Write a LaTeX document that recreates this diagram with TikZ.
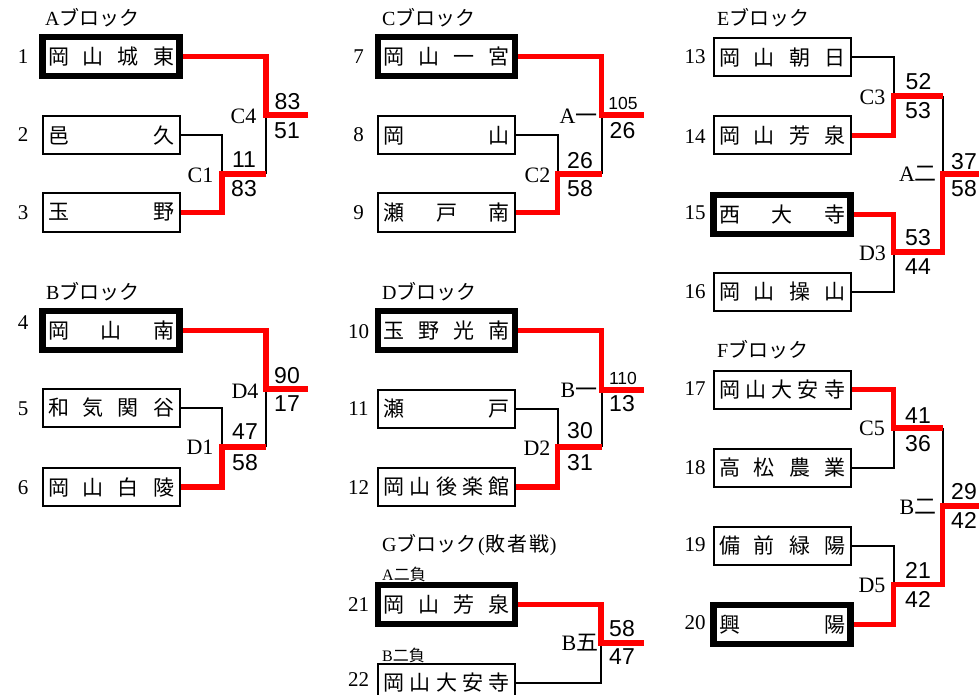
\documentclass[tikz,border=0pt]{standalone}
\usepackage{fontspec}
\setmainfont{Liberation Serif}
\newfontfamily\jp{Noto Sans CJK JP}
\newfontfamily\sn{Liberation Sans}
\newcommand{\jt}[1]{\makebox[126pt][s]{#1}}
\pgfdeclarelayer{bg}
\pgfsetlayers{bg,main}
\tikzset{
 team/.style={draw, line width=2pt, fill=white, minimum width=137pt, minimum height=38pt, inner sep=0pt, font=\jp\fontsize{21}{21}\selectfont},
 winner/.style={team, line width=6.5pt, minimum height=39pt},
 seed/.style={inner sep=0pt, font=\fontsize{21}{21}\selectfont},
 game/.style={inner sep=0pt, font=\fontsize{22}{22}\selectfont},
 score/.style={inner sep=0pt, font=\sn\fontsize{23}{23}\selectfont},
 smallscore/.style={inner sep=0pt, font=\sn\fontsize{17.5}{17.5}\selectfont},
 title/.style={inner sep=0pt, anchor=west, font=\fontsize{20}{20}\selectfont},
 subtitle/.style={inner sep=0pt, anchor=west, font=\fontsize{16}{16}\selectfont},
 blackln/.style={draw=black, line width=2pt},
 redln/.style={draw=red, line width=5.5pt},
}
\begin{document}
\begin{tikzpicture}[x=1pt,y=-1pt]
\useasboundingbox (0,0) rectangle (979,695);
% titles
\node[title] (tA) at (45,18) {A{\jp ブロック}};
\node[title] (tB) at (46,292) {B{\jp ブロック}};
\node[title] (tC) at (382,18) {C{\jp ブロック}};
\node[title] (tD) at (382,292) {D{\jp ブロック}};
\node[title] (tE) at (717,18) {E{\jp ブロック}};
\node[title] (tF) at (717,350) {F{\jp ブロック}};
\node[title] (tG) at (382,545) {G{\jp ブロック}\hspace{1.5pt}(\hspace{1pt}{\jp 敗\hspace{2pt}者\hspace{2pt}戦})};
\node[subtitle] (sA) at (382,574) {A{\jp 二負}};
\node[subtitle] (sB) at (382,655) {B{\jp 二負}};
% A block
\node[winner] (b1) at (111,56.5) {\jt{岡\hfill 山\hfill 城\hfill 東}};
\node[team] (b2) at (111,135.5) {\jt{邑\hfill 久}};
\node[team] (b3) at (111,212.5) {\jt{玉\hfill 野}};
\node[seed] (n1) at (23,57) {1};
\node[seed] (n2) at (23,135) {2};
\node[seed] (n3) at (23,213) {3};
% B block
\node[winner] (b4) at (111,330.5) {\jt{岡\hfill 山\hfill 南}};
\node[team] (b5) at (111,408) {\jt{和\hfill 気\hfill 関\hfill 谷}};
\node[team] (b6) at (111,487) {\jt{岡\hfill 山\hfill 白\hfill 陵}};
\node[seed] (n4) at (23,323) {4};
\node[seed] (n5) at (23,409) {5};
\node[seed] (n6) at (23,488) {6};
% C block
\node[winner] (b7) at (446.5,56.5) {\jt{岡\hfill 山\hfill 一\hfill 宮}};
\node[team] (b8) at (446.5,135.5) {\jt{岡\hfill 山}};
\node[team] (b9) at (446.5,212.5) {\jt{瀬\hfill 戸\hfill 南}};
\node[seed] (n7) at (358.5,57) {7};
\node[seed] (n8) at (358.5,135) {8};
\node[seed] (n9) at (358.5,213) {9};
% D block
\node[winner] (b10) at (446.5,330.5) {\jt{玉\hfill 野\hfill 光\hfill 南}};
\node[team] (b11) at (446.5,408.5) {\jt{瀬\hfill 戸}};
\node[team] (b12) at (446.5,487) {\jt{岡\hfill 山\hfill 後\hfill 楽\hfill 館}};
\node[seed] (n10) at (358.5,332) {10};
\node[seed] (n11) at (358.5,409) {11};
\node[seed] (n12) at (358.5,488) {12};
% E block
\node[team] (b13) at (782,57.5) {\jt{岡\hfill 山\hfill 朝\hfill 日}};
\node[team] (b14) at (782,135.5) {\jt{岡\hfill 山\hfill 芳\hfill 泉}};
\node[winner] (b15) at (782,214.5) {\jt{西\hfill 大\hfill 寺}};
\node[team] (b16) at (782,291.5) {\jt{岡\hfill 山\hfill 操\hfill 山}};
\node[seed] (n13) at (695,57) {13};
\node[seed] (n14) at (695,137) {14};
\node[seed] (n15) at (695,213) {15};
\node[seed] (n16) at (695,292) {16};
% F block
\node[team] (b17) at (782,389.5) {\jt{岡\hfill 山\hfill 大\hfill 安\hfill 寺}};
\node[team] (b18) at (782,467.5) {\jt{高\hfill 松\hfill 農\hfill 業}};
\node[team] (b19) at (782,545.5) {\jt{備\hfill 前\hfill 緑\hfill 陽}};
\node[winner] (b20) at (782,624.5) {\jt{興\hfill 陽}};
\node[seed] (n17) at (695,389) {17};
\node[seed] (n18) at (695,468) {18};
\node[seed] (n19) at (695,545) {19};
\node[seed] (n20) at (695,623) {20};
% G block
\node[winner] (b21) at (446.5,604.5) {\jt{岡\hfill 山\hfill 芳\hfill 泉}};
\node[team] (b22) at (446.5,682.5) {\jt{岡\hfill 山\hfill 大\hfill 安\hfill 寺}};
\node[seed] (n21) at (358.5,605) {21};
\node[seed] (n22) at (358.5,680) {22};
% junction coordinates
\coordinate (A1) at (222,174); \coordinate (A1e) at (266,174);
\coordinate (A2) at (266,115); \coordinate (A2e) at (308,115);
\coordinate (B1) at (222,447); \coordinate (B1e) at (266,447);
\coordinate (B2) at (266,389); \coordinate (B2e) at (308,389);
\coordinate (C1) at (557.5,174); \coordinate (C1e) at (601.5,174);
\coordinate (C2) at (601.5,115); \coordinate (C2e) at (644,115);
\coordinate (D1) at (557.5,447); \coordinate (D1e) at (601.5,447);
\coordinate (D2) at (601.5,390); \coordinate (D2e) at (644,390);
\coordinate (E1) at (893.5,96); \coordinate (E1e) at (942.5,96);
\coordinate (E3) at (893.5,252); \coordinate (E3e) at (942.5,252);
\coordinate (E2) at (942.5,174); \coordinate (E2e) at (985,174);
\coordinate (F1) at (893.5,428); \coordinate (F1e) at (942.5,428);
\coordinate (F3) at (893.5,584.5); \coordinate (F3e) at (942.5,584.5);
\coordinate (F2) at (942.5,506); \coordinate (F2e) at (985,506);
\coordinate (G1) at (601,643); \coordinate (G1e) at (644,643);
\begin{pgfonlayer}{bg}
% black lines
\draw[blackln] (b2.east) -| (A1); \draw[blackln] (A1e) -- (A2);
\draw[blackln] (b5.east) -| (B1); \draw[blackln] (B1e) -- (B2);
\draw[blackln] (b8.east) -| (C1); \draw[blackln] (C1e) -- (C2);
\draw[blackln] (b11.east) -| (D1); \draw[blackln] (D1e) -- (D2);
\draw[blackln] (b13.east) -| (E1); \draw[blackln] (b16.east) -| (E3); \draw[blackln] (E1e) -- (E2);
\draw[blackln] (b18.east) -| (F1); \draw[blackln] (b19.east) -| (F3); \draw[blackln] (F1e) -- (F2);
\draw[blackln] (b22.east) -| (G1);
% red lines
\draw[redln] (b3.east) -| (A1) -- (A1e); \draw[redln] (b1.east) -| (A2) -- (A2e);
\draw[redln] (b6.east) -| (B1) -- (B1e); \draw[redln] (b4.east) -| (B2) -- (B2e);
\draw[redln] (b9.east) -| (C1) -- (C1e); \draw[redln] (b7.east) -| (C2) -- (C2e);
\draw[redln] (b12.east) -| (D1) -- (D1e); \draw[redln] (b10.east) -| (D2) -- (D2e);
\draw[redln] (b14.east) -| (E1) -- (E1e); \draw[redln] (b15.east) -| (E3) -- (E3e) -- (E2) -- (E2e);
\draw[redln] (b17.east) -| (F1) -- (F1e); \draw[redln] (b20.east) -| (F3) -- (F3e) -- (F2) -- (F2e);
\draw[redln] (b21.east) -| (G1) -- (G1e);
\end{pgfonlayer}
% game labels
\node[game] (gC1) at (200.5,175) {C1};
\node[game] (gC4) at (243.5,116) {C4};
\node[game] (gD1) at (200,447) {D1};
\node[game] (gD4) at (245,391) {D4};
\node[game] (gC2) at (537.5,175) {C2};
\node[game] (gA1) at (578.5,116) {A{\jp 一}};
\node[game] (gD2) at (537,448) {D2};
\node[game] (gB1) at (579,390) {B{\jp 一}};
\node[game] (gC3) at (872.5,97) {C3};
\node[game] (gA2) at (918,174) {A{\jp 二}};
\node[game] (gD3) at (872.5,253) {D3};
\node[game] (gC5) at (872,428.5) {C5};
\node[game] (gB2) at (918,507) {B{\jp 二}};
\node[game] (gD5) at (872,585) {D5};
\node[game] (gB5) at (580,643) {B{\jp 五}};
% scores
\node[score] (s1) at (244,160) {11};
\node[score] (s2) at (244,189) {83};
\node[score] (s3) at (287.5,102) {83};
\node[score] (s4) at (287,131) {51};
\node[score] (s5) at (245,432) {47};
\node[score] (s6) at (245,463) {58};
\node[score] (s7) at (287,376) {90};
\node[score] (s8) at (287,404) {17};
\node[score] (s9) at (580,161) {26};
\node[score] (s10) at (580,189) {58};
\node[smallscore] (s11) at (623,103) {105};
\node[score] (s12) at (622.5,131) {26};
\node[score] (s13) at (580,431) {30};
\node[score] (s14) at (580,463) {31};
\node[smallscore] (s15) at (623,378) {110};
\node[score] (s16) at (622,404) {13};
\node[score] (s17) at (918.5,82) {52};
\node[score] (s18) at (918,111) {53};
\node[score] (s19) at (918,238) {53};
\node[score] (s20) at (918,267) {44};
\node[score] (s21) at (964,162) {37};
\node[score] (s22) at (964,189) {58};
\node[score] (s23) at (918,416) {41};
\node[score] (s24) at (918,444) {36};
\node[score] (s25) at (918,570) {21};
\node[score] (s26) at (918,599) {42};
\node[score] (s27) at (964,492) {29};
\node[score] (s28) at (964,520) {42};
\node[score] (s29) at (622,629) {58};
\node[score] (s30) at (622,657) {47};
\end{tikzpicture}
\end{document}
